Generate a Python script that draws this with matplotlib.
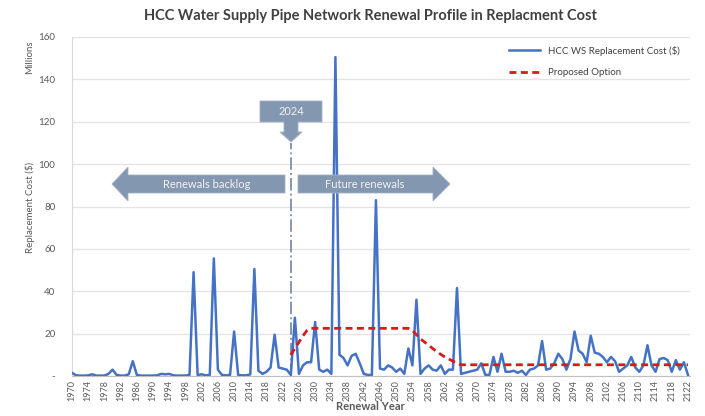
import matplotlib
matplotlib.use("Agg")
from matplotlib import pyplot as plt
from matplotlib.patches import Polygon

plt.rcParams['font.family'] = ['Lato', 'DejaVu Sans']

first_year = 1970
last_year = 2122
current_year = 2024

# HCC WS replacement cost, $ millions, one value per year 1970-2122
replacement_cost = [
    1.5, 0.3, 0.2, 0.2, 0.3, 0.8, 0.2, 0.2, 0.2, 1.0,      # 1970-1979
    3.0, 0.5, 0.2, 0.2, 0.8, 7.0, 0.5, 0.2, 0.2, 0.2,      # 1980-1989
    0.2, 0.3, 1.0, 0.8, 1.0, 0.3, 0.2, 0.2, 0.2, 0.5,      # 1990-1999
    49.0, 0.5, 0.8, 0.3, 0.5, 55.5, 3.0, 0.5, 0.3, 0.5,    # 2000-2009
    21.0, 0.5, 0.3, 0.3, 0.8, 50.5, 2.5, 1.0, 2.0, 4.0,    # 2010-2019
    19.5, 4.0, 3.5, 3.0, 0.5, 27.5, 1.0, 5.0, 6.5, 6.5,    # 2020-2029
    25.5, 3.0, 2.0, 3.0, 1.0, 150.5, 10.0, 8.5, 5.0, 9.5,  # 2030-2039
    10.5, 6.0, 1.0, 0.5, 0.5, 83.0, 3.5, 3.0, 5.0, 4.0,    # 2040-2049
    2.0, 3.5, 1.0, 13.0, 5.0, 36.0, 1.0, 3.5, 5.0, 3.0,    # 2050-2059
    2.5, 5.0, 1.0, 3.0, 3.0, 41.5, 1.0, 1.5, 2.0, 2.5,     # 2060-2069
    3.0, 6.0, 0.5, 0.5, 9.0, 2.0, 10.5, 2.0, 2.0, 2.5,     # 2070-2079
    1.5, 2.5, 0.5, 3.0, 3.5, 5.0, 16.5, 3.0, 3.5, 6.0,     # 2080-2089
    10.5, 8.0, 3.0, 8.0, 21.0, 12.0, 10.5, 6.5, 19.0, 11.0,  # 2090-2099
    10.5, 9.0, 6.5, 9.0, 7.0, 2.0, 3.5, 5.0, 9.0, 4.0,     # 2100-2109
    2.0, 5.0, 14.5, 5.0, 2.0, 8.0, 8.5, 7.5, 2.0, 7.5,     # 2110-2119
    3.0, 6.5, 0.5,                                         # 2120-2122
]

# proposed option, $ millions, 2024-2122
proposed_option = [
    10.0, 13.0, 16.0, 19.0, 21.5, 22.5,                    # 2024-2029
    22.5, 22.5, 22.5, 22.5, 22.5, 22.5, 22.5, 22.5, 22.5, 22.5,  # 2030-2039
    22.5, 22.5, 22.5, 22.5, 22.5, 22.5, 22.5, 22.5, 22.5, 22.5,  # 2040-2049
    22.5, 22.5, 22.5, 22.5, 21.5, 19.5, 17.5, 16.0, 14.5, 13.0,  # 2050-2059
    11.5, 10.2, 9.0, 8.0, 7.0, 6.0, 5.3, 5.3, 5.3, 5.3,    # 2060-2069
    5.3, 5.3, 5.3, 5.3, 5.3, 5.3, 5.3, 5.3, 5.3, 5.3,      # 2070-2079
    5.3, 5.3, 5.3, 5.3, 5.3, 5.3, 5.3, 5.3, 5.3, 5.3,      # 2080-2089
    5.3, 5.3, 5.3, 5.3, 5.3, 5.3, 5.3, 5.3, 5.3, 5.3,      # 2090-2099
    5.3, 5.3, 5.3, 5.3, 5.3, 5.3, 5.3, 5.3, 5.3, 5.3,      # 2100-2109
    5.3, 5.3, 5.3, 5.3, 5.3, 5.3, 5.3, 5.3, 5.3, 5.3,      # 2110-2119
    5.3, 5.3, 5.3,                                         # 2120-2122
]

years = list(range(first_year, last_year + 1))
proposed_years = list(range(current_year, last_year + 1))
y_ticks = [0, 20, 40, 60, 80, 100, 120, 140, 160]
y_tick_labels = ['-', '20', '40', '60', '80', '100', '120', '140', '160']
x_ticks = list(range(first_year, last_year + 1, 4))

W, H = 705, 416
fig = plt.figure(figsize=(W / 100, H / 100), dpi=100)
ax = fig.add_axes([72 / W, 1 - 376 / H, (690 - 72) / W, (376 - 37) / H])

grey = '#595959'
slate = '#8497B0'

ax.plot(years, replacement_cost, color='#4472C4', lw=1.8, label='HCC WS Replacement Cost ($)', zorder=3)
ax.plot(proposed_years, proposed_option, color='#D91A1A', lw=2.0, ls=(0, (2.5, 1.6)),
        label='Proposed Option', zorder=4)

# 2024 marker line
ax.plot([current_year, current_year], [0, 110], color=slate, lw=1.4, ls='-.', zorder=2)

ax.set_xlim(first_year, last_year + 0.5)
ax.set_ylim(0, 160)
ax.set_yticks(y_ticks)
ax.set_yticklabels(y_tick_labels)
ax.set_xticks(x_ticks)
ax.set_xticklabels([str(x) for x in x_ticks], rotation=90)
ax.tick_params(axis='x', labelsize=6.5, colors=grey, length=0, pad=3)
ax.tick_params(axis='y', labelsize=7, colors=grey, length=0, pad=12)
ax.grid(axis='y', color='#E3E3E3', lw=0.9)
ax.set_axisbelow(True)
for s in ['top', 'right']:
    ax.spines[s].set_visible(False)
ax.spines['left'].set_color('#D9D9D9')
ax.spines['bottom'].set_color('#BFBFBF')

fig.text(370 / W, 1 - 16 / H, 'HCC Water Supply Pipe Network Renewal Profile in Replacment Cost',
         ha='center', va='center', fontsize=10.5, fontweight='bold', color='#404040')
fig.text(30 / W, 1 - 207 / H, 'Replacement Cost ($)', rotation=90, ha='center', va='center',
         fontsize=7, color=grey)
fig.text(30 / W, 1 - 57 / H, 'Millions', rotation=90, ha='center', va='center', fontsize=7, color=grey)
fig.text(370 / W, 1 - 406 / H, 'Renewal Year', ha='center', va='center', fontsize=8,
         fontweight='bold', color=grey)

leg = ax.legend(loc='upper left', bbox_to_anchor=((500 - 72) / (690 - 72), 1.0), frameon=False,
                fontsize=7, handlelength=3.2, labelspacing=1.3, labelcolor='#404040')


def px(x, y):
    return (x / W, 1 - y / H)


def shape(points, **kw):
    poly = Polygon([px(x, y) for x, y in points], closed=True, transform=fig.transFigure,
                   facecolor=slate, edgecolor='#A3B2C6', lw=0.6, zorder=10)
    fig.add_artist(poly)


# left arrow: renewals backlog
shape([(112, 184), (128, 167), (128, 175), (285, 175), (285, 193), (128, 193), (128, 201)])
fig.text(*px(207, 184), 'Renewals backlog', ha='center', va='center', fontsize=8, color='#F2F2F2', zorder=11)

# right arrow: future renewals
shape([(298, 175), (433, 175), (433, 167), (450, 184), (433, 201), (433, 193), (298, 193)])
fig.text(*px(365, 184), 'Future renewals', ha='center', va='center', fontsize=8, color='#F2F2F2', zorder=11)

# 2024 callout
shape([(260, 101), (322, 101), (322, 122), (298, 122), (298, 132), (302, 132), (291, 142),
       (280, 132), (284, 132), (284, 122), (260, 122)])
fig.text(*px(291, 111.5), '2024', ha='center', va='center', fontsize=8, color='#F2F2F2', zorder=11)

fig.savefig('out.png', dpi=100)
